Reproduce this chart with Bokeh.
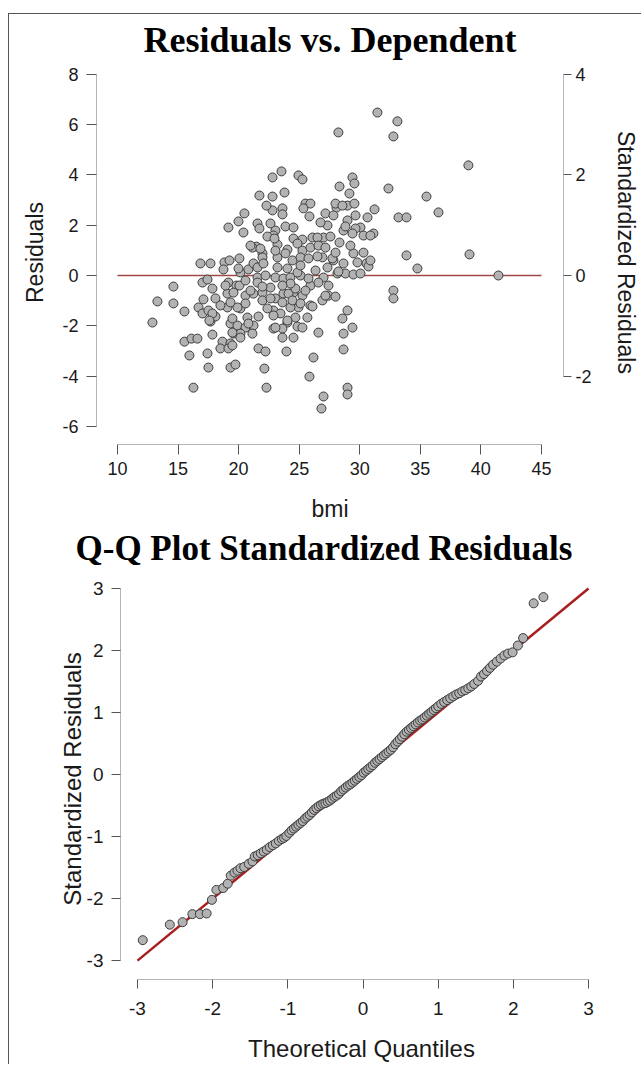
from bokeh.plotting import figure
from bokeh.models import Range1d, LinearAxis, FixedTicker
from bokeh.embed import file_html
from bokeh.resources import INLINE

# ---------------- data: Residuals vs. Dependent ----------------
bmi = [12.89,13.30,14.62,14.62,15.53,15.53,16.11,16.60,15.94,16.27,
       16.85,17.68,17.02,17.43,16.69,17.02,
       18.83,19.25,18.75,20.07,19.16,19.82,20.15,20.81,21.23,21.47,21.14,21.97,21.97,21.56,
       17.84,18.09,17.10,19.08,19.58,20.07,20.57,21.23,21.97,22.63,23.04,23.70,24.53,25.27,25.93,
       17.51,17.68,18.09,19.08,20.15,20.73,19.33,19.91,20.57,21.23,21.64,
       19.58,20.15,21.14,17.84,18.67,19.33,18.50,19.16,17.43,21.64,22.22,23.95,
       17.51,19.33,19.74,22.13,22.30,
       22.88,23.46,24.03,22.88,23.62,23.62,24.53,24.86,25.27,24.69,25.68,25.93,24.94,24.28,
       26.18,25.85,26.59,
       18.92,21.56,21.97,21.97,22.63,
       17.84,17.59,19.91,20.57,19.49,20.81,19.49,20.15,22.38,22.88,23.04,19.49,
       23.04,23.70,24.28,25.11,25.77,27.01,28.16,28.82,29.48,30.06,
       24.12,24.69,23.62,24.45,25.11,26.10,26.92,27.42,28.00,27.42,24.03,
       28.99,28.57,29.40,28.66,28.66,28.99,28.99,27.01,26.84,
       32.78,32.78,27.17,
       31.46,33.11,28.24,32.78,38.97,29.40,29.56,28.33,32.37,29.15,35.51,
       28.08,28.99,29.56,31.22,36.50,33.20,33.86,27.17,27.83,30.64,27.34,28.99,29.65,30.06,28.66,29.65,31.13,27.01,28.33,29.48,30.31,30.31,33.86,39.06,34.76,41.45,
       26.92,27.83,28.66,30.55,30.72,28.24,27.34,
       25.52,25.93,25.35,25.85,23.62,23.62,22.80,28.00,28.57,26.76,
       23.87,24.53,23.04,22.88,28.82,29.40,30.88,
       24.53,25.27,26.10,26.51,27.58,23.21,24.03,24.86,25.27,25.93,26.59,27.17,26.51,27.75,30.88,
       23.21,23.87,24.45,25.11,25.77,23.21,24.03,24.86,
       22.30,21.56,21.72,22.63,22.38,20.98,21.80,23.04,19.99,21.56,22.05,
       23.54,22.80,24.94,25.27,23.79,21.72,22.80,20.48,19.99,19.16,20.40,22.96,
       26.35,26.59,25.52,24.28,25.11,23.62,22.22,20.57,20.98,19.33,18.50,28.00,29.23,29.81]

residual = [-1.87,-1.03,-1.11,-0.44,-1.43,-2.63,-2.51,-2.51,-3.18,-4.46,
            0.48,0.48,-0.28,-0.16,-1.27,-1.51,
            0.52,0.60,0.24,0.68,-0.28,-0.40,0.12,0.24,0.48,1.15,1.11,0.88,0.72,-0.08,
            -0.52,-0.91,-0.95,-0.72,-0.68,-0.40,-0.80,-0.72,-0.68,-0.48,-0.91,-0.72,-0.68,-0.80,-0.40,
            -1.39,-1.83,-1.63,-1.27,-1.31,-1.67,-1.91,-1.99,-2.07,-1.99,-1.63,
            -2.31,-2.31,-2.31,-2.35,-2.63,-2.70,-2.90,-2.90,-3.10,-2.90,-3.02,-3.02,
            -3.66,-3.66,-3.54,-3.70,-4.46,
            -1.39,-1.51,-1.87,-2.11,-2.11,-2.47,-2.47,-2.03,-2.07,-1.67,-1.67,-1.19,-1.27,-1.27,
            -3.26,-4.02,-2.27,
            -0.40,-0.28,-0.44,-0.99,-0.91,
            -1.51,-1.79,-1.27,-1.11,-1.71,-1.91,-2.27,-2.47,-1.31,-1.59,-2.07,-2.78,
            -0.08,-0.12,-0.08,0.00,-0.12,-0.08,0.08,0.08,0.04,0.08,
            -0.72,-0.52,-1.07,-0.99,-1.11,-1.23,-0.99,-0.80,-0.84,-0.40,-1.79,
            -1.39,-1.71,-2.07,-2.31,-2.94,-4.46,-4.73,-4.81,-5.29,
            -0.60,-0.91,-0.80,
            6.48,6.13,5.69,5.53,4.38,3.90,3.66,3.54,3.46,3.26,3.14,
            2.70,2.78,2.86,2.63,2.51,2.31,2.31,2.47,2.39,2.31,1.99,2.19,2.39,1.91,1.79,1.87,1.67,1.51,1.31,0.88,0.91,1.59,0.80,0.84,0.28,0.00,
            0.72,0.60,0.48,0.48,0.36,0.16,0.32,
            2.86,2.86,2.67,2.35,2.67,2.43,2.59,2.86,2.78,2.11,
            1.95,1.91,1.79,1.59,1.95,1.67,1.59,
            1.47,1.43,1.51,1.51,1.55,1.23,1.03,1.27,0.99,1.11,1.19,1.11,0.76,0.68,0.60,
            0.72,0.88,0.60,0.72,0.68,0.32,0.28,0.12,
            2.78,2.07,1.87,2.07,1.55,1.19,1.07,0.99,0.28,0.32,0.48,
            4.14,3.90,3.98,3.82,3.30,3.18,3.14,2.47,2.15,1.91,1.71,1.47,
            0.20,-0.28,-0.60,-0.32,0.40,-0.40,0.00,-0.20,-0.60,-1.07,-1.19,0.91,1.19,0.52]

zero_line_x = [10, 45]
zero_line_y = [0, 0]
residual_ticks = [-6, -4, -2, 0, 2, 4, 6, 8]
std_ticks = [-2, 0, 2, 4]
bmi_ticks = [10, 15, 20, 25, 30, 35, 40, 45]

# ---------------- data: Q-Q plot ----------------
qq_theoretical = [-2.93,-2.57,-2.40,-2.27,-2.17,-2.08,-2.01,-1.95,-1.86,-1.80,
                  -1.76,-1.71,-1.67,-1.63,-1.58,-1.52,-1.47,-1.44,-1.40,-1.36,
                  -1.32,-1.28,-1.24,-1.20,-1.16,-1.12,-1.08,-1.05,-1.02,-0.98,
                  -0.95,-0.92,-0.89,-0.86,-0.83,-0.80,-0.77,-0.74,-0.71,-0.68,
                  -0.65,-0.62,-0.59,-0.56,-0.53,-0.50,-0.47,-0.44,-0.41,-0.38,
                  -0.35,-0.32,-0.29,-0.26,-0.23,-0.20,-0.17,-0.14,-0.11,-0.08,
                  -0.05,-0.02,0.01,0.04,0.07,0.10,0.13,0.16,0.19,0.22,
                  0.25,0.28,0.31,0.34,0.37,0.40,0.43,0.46,0.49,0.52,
                  0.55,0.58,0.61,0.64,0.67,0.70,0.73,0.76,0.79,0.82,
                  0.85,0.88,0.91,0.94,0.97,1.00,1.04,1.08,1.12,1.16,
                  1.20,1.24,1.28,1.32,1.36,1.40,1.44,1.48,1.53,1.57,
                  1.61,1.65,1.69,1.73,1.78,1.83,1.88,1.93,1.99,2.06,
                  2.13,2.27,2.40]
qq_standardized = [-2.67,-2.42,-2.38,-2.25,-2.25,-2.24,-2.02,-1.86,-1.83,-1.76,
                   -1.63,-1.58,-1.55,-1.51,-1.49,-1.44,-1.40,-1.32,-1.30,-1.27,
                   -1.24,-1.21,-1.17,-1.14,-1.11,-1.07,-1.04,-1.02,-0.99,-0.94,
                   -0.90,-0.87,-0.84,-0.81,-0.78,-0.75,-0.71,-0.68,-0.65,-0.61,
                   -0.57,-0.54,-0.51,-0.49,-0.47,-0.46,-0.44,-0.42,-0.39,-0.36,
                   -0.34,-0.31,-0.27,-0.24,-0.21,-0.18,-0.16,-0.13,-0.10,-0.07,
                   -0.04,-0.01,0.03,0.06,0.09,0.12,0.15,0.19,0.22,0.25,
                   0.28,0.31,0.34,0.37,0.40,0.44,0.49,0.53,0.57,0.61,
                   0.65,0.69,0.72,0.75,0.78,0.81,0.84,0.87,0.89,0.92,
                   0.95,0.98,1.01,1.04,1.07,1.10,1.14,1.17,1.20,1.23,
                   1.26,1.29,1.31,1.34,1.36,1.39,1.42,1.46,1.51,1.58,
                   1.62,1.67,1.72,1.77,1.82,1.87,1.92,1.95,1.97,2.08,
                   2.20,2.76,2.86]
ref_line = [-3, 3]
qq_ticks = [-3, -2, -1, 0, 1, 2, 3]

SANS = "Liberation Sans"
SERIF = "Liberation Serif"
BORDER = "1px solid #555555"


def style_axis(ax, ticks, label_size, tick_size, tick_len, label_standoff, tick_standoff):
    ax.ticker = FixedTicker(ticks=ticks)
    ax.major_label_overrides = {t: str(t) for t in ticks}
    ax.axis_line_color = "#b5b5b5"
    ax.axis_line_width = 1
    ax.major_tick_line_color = "#555555"
    ax.major_tick_out = tick_len
    ax.major_tick_in = 0
    ax.minor_tick_line_color = None
    ax.major_label_text_font = SANS
    ax.major_label_text_font_size = tick_size
    ax.major_label_text_color = "#1a1a1a"
    ax.major_label_standoff = tick_standoff
    ax.axis_label_text_font = SANS
    ax.axis_label_text_font_size = label_size
    ax.axis_label_text_font_style = "normal"
    ax.axis_label_text_color = "#1a1a1a"
    ax.axis_label_standoff = label_standoff


def style_fig(p, size, align, standoff, offset):
    p.title.text_font = SERIF
    p.title.text_font_style = "bold"
    p.title.text_font_size = size
    p.title.align = align
    p.title.text_color = "#000000"
    p.title.standoff = standoff
    p.title.offset = offset
    p.outline_line_color = None
    p.xgrid.visible = False
    p.ygrid.visible = False
    p.background_fill_color = "white"


# ---------------- top figure ----------------
p1 = figure(width=633, height=511, output_backend="svg", toolbar_location=None,
            x_range=Range1d(8.27, 46.82), y_range=Range1d(-6.72, 8.55),
            min_border_left=87, min_border_right=79, min_border_top=46, min_border_bottom=81,
            title="Residuals vs. Dependent",
            styles={"margin-left": "8px", "margin-top": "13px",
                    "border-left": BORDER, "border-top": BORDER})
style_fig(p1, "36px", "center", 2, 0)
p1.border_fill_color = "white"

p1.xaxis.bounds = (10, 45)
p1.xaxis.axis_label = "bmi"
p1.yaxis.bounds = (-6, 8)
p1.yaxis.axis_label = "Residuals"
style_axis(p1.xaxis[0], bmi_ticks, "23px", "18px", 10, 18, 7)
style_axis(p1.yaxis[0], residual_ticks, "23px", "18px", 10, 11, 8)

p1.extra_y_ranges = {"std": Range1d(-6.72 / 2.0, 8.55 / 2.0)}
rax = LinearAxis(y_range_name="std", axis_label="Standardized Residuals", bounds=(-2, 4))
style_axis(rax, std_ticks, "23px", "18px", 8, 18, 4)
p1.add_layout(rax, "right")

p1.line(zero_line_x, zero_line_y, line_color="#a04848", line_width=1.5)
p1.scatter(bmi, residual, size=9, fill_color="#b2b2b2", line_color="#3c3c3c", line_width=1)

# ---------------- bottom figure ----------------
p2 = figure(width=633, height=548, output_backend="svg", toolbar_location=None,
            x_range=Range1d(-3.226, 3.186), y_range=Range1d(-3.304, 3.16),
            min_border_left=111, min_border_right=40, min_border_top=60, min_border_bottom=84,
            title="Q-Q Plot Standardized Residuals",
            styles={"margin-left": "8px", "margin-top": "-8px", "border-left": BORDER})
style_fig(p2, "35px", "left", 21, -45)
p2.border_fill_alpha = 0

p2.xaxis.bounds = (-3, 3)
p2.xaxis.axis_label = "Theoretical Quantiles"
p2.yaxis.bounds = (-3, 3)
p2.yaxis.axis_label = "Standardized Residuals"
style_axis(p2.xaxis[0], qq_ticks, "24px", "19px", 9, 17, 13)
style_axis(p2.yaxis[0], qq_ticks, "24px", "19px", 9, -2, 8)

p2.line(ref_line, ref_line, line_color="#a81e1e", line_width=2.5)
p2.scatter(qq_theoretical, qq_standardized, size=9, fill_color="#b2b2b2",
           line_color="#3c3c3c", line_width=1)

open("out.html", "w").write(file_html([p1, p2], INLINE))
